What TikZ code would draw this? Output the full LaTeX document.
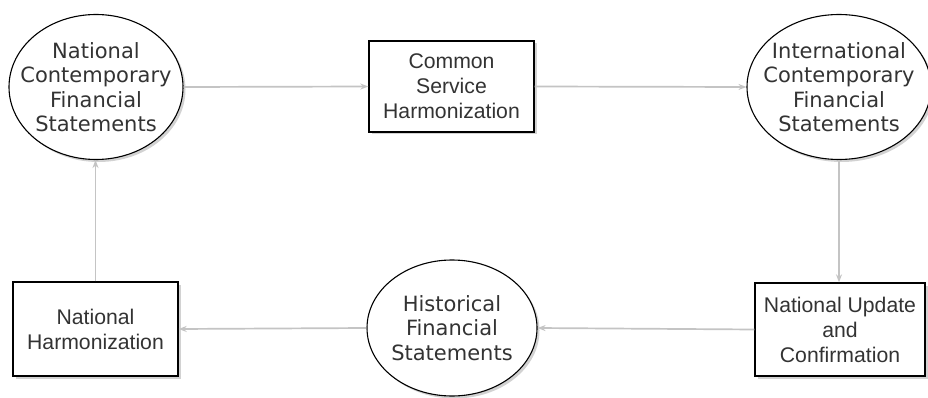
\documentclass[tikz,border=0pt]{standalone}
\usepackage{fontspec}
\setmainfont{Liberation Sans}
\newfontfamily\ovalfont{DejaVu Sans}
\usetikzlibrary{shapes.geometric,arrows.meta,shadows}
\definecolor{linegray}{HTML}{C4C4C4}
\definecolor{textgray}{HTML}{333333}
\tikzset{
  softshadow/.style={drop shadow={shadow xshift=2.5pt,shadow yshift=-2.5pt,opacity=.35,fill=gray}},
  oval/.style={ellipse,draw=black,line width=1.1pt,fill=white,inner sep=0pt,softshadow},
  ovaltext/.style={inner sep=0pt,align=center,text=textgray,
    font=\ovalfont\fontsize{21}{24.5}\selectfont},
  procbox/.style={rectangle,draw=black,line width=1.3pt,fill=white,inner sep=0pt,
    softshadow,align=center,text=textgray,font=\fontsize{21.2}{25}\selectfont},
  flow/.style={draw=linegray,line width=1.7pt,-{Stealth[length=8pt,width=6pt]}}
}
\begin{document}
\begin{tikzpicture}[x=1pt,y=-1pt]
\useasboundingbox (0,0) rectangle (928,398);
\fill[white] (0,0) rectangle (928,398);

\node[oval,minimum width=174pt,minimum height=145pt,
  label={[ovaltext]center:National\\Contemporary\\Financial\\Statements}] (ncfs) at (96,87) {};
\node[procbox,minimum width=165pt,minimum height=91pt] (csh) at (451.5,86.5)
  {Common\\Service\\Harmonization};
\node[oval,minimum width=184pt,minimum height=145pt,
  label={[ovaltext]center:International\\Contemporary\\Financial\\Statements}] (icfs) at (839,87) {};
\node[procbox,minimum width=170pt,minimum height=93pt] (nuc) at (840,329.5)
  {National Update\\and\\Confirmation};
\node[oval,minimum width=170pt,minimum height=136pt,
  label={[ovaltext]center:Historical\\Financial\\Statements}] (hfs) at (452,328) {};
\node[procbox,minimum width=165pt,minimum height=94pt] (nh) at (95.5,329)
  {National\\Harmonization};

\draw[flow] (ncfs.east) -- (csh.west);
\draw[flow] (csh.east) -- (icfs.west);
\draw[flow] (icfs.south) -- (icfs.south |- nuc.north);
\draw[flow] (nuc.west) -- (hfs.east);
\draw[flow] (hfs.west) -- (nh.east);
\draw[flow] (nh.north) -- (nh.north |- ncfs.south);
\end{tikzpicture}
\end{document}
